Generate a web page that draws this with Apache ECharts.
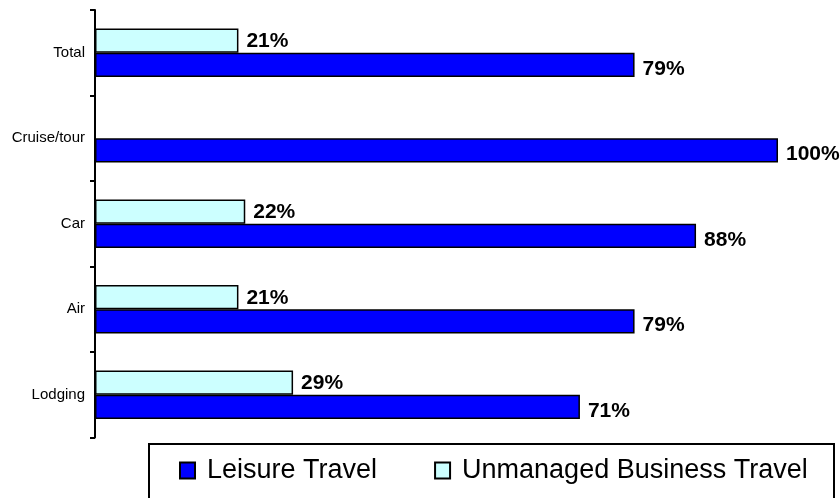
<!DOCTYPE html>
<html>
<head>
<meta charset="utf-8">
<style>
  html, body { margin: 0; padding: 0; background: #fff; }
  #chart { width: 840px; height: 498px; }
</style>
<script src="https://cdn.jsdelivr.net/npm/echarts@6/dist/echarts.min.js"></script>
</head>
<body>
<div id="chart"></div>
<script>
// Travel segments, listed bottom to top
const categories = ['Lodging', 'Air', 'Car', 'Cruise/tour', 'Total'];
// Share of bookings (%)
const leisure = [71, 79, 88, 100, 79];
const business = [29, 21, 22, null, 21];
const seriesNames = ['Leisure Travel', 'Unmanaged Business Travel'];

const font = 'Arial, "Liberation Sans", sans-serif';
const chart = echarts.init(document.getElementById('chart'), null, { renderer: 'canvas' });

function valueLabel(dy) {
  return {
    show: true,
    position: 'right',
    distance: 8,
    offset: [0, dy],
    formatter: p => p.value + '%',
    color: '#000',
    fontFamily: font,
    fontWeight: 'bold',
    fontSize: 21
  };
}

chart.setOption({
  animation: false,
  backgroundColor: '#fff',
  grid: { left: 95, right: 62, top: 10, bottom: 60.5, containLabel: false },
  xAxis: {
    type: 'value', min: 0, max: 100,
    show: false
  },
  yAxis: {
    type: 'category',
    data: categories,
    axisLine: { show: true, lineStyle: { color: '#000', width: 2 } },
    axisTick: { show: true, inside: false, length: 5, lineStyle: { color: '#000', width: 2 } },
    axisLabel: { color: '#000', fontFamily: font, fontSize: 15, margin: 10 },
    splitLine: { show: false }
  },
  legend: {
    data: seriesNames,
    left: 179, top: 457,
    padding: 0,
    icon: 'rect',
    itemWidth: 15, itemHeight: 16,
    itemGap: 57,
    textStyle: { color: '#000', fontFamily: font, fontSize: 27, padding: [0, 0, 0, 7] }
  },
  graphic: [{
    type: 'rect',
    shape: { x: 149, y: 444, width: 685, height: 70 },
    style: { fill: 'none', stroke: '#000', lineWidth: 2 },
    z: -1
  }],
  series: [
    {
      name: seriesNames[1], type: 'bar', data: business,
      barGap: '0%', barCategoryGap: '43%',
      itemStyle: { color: '#CCFFFF', borderColor: '#000', borderWidth: 1.5 },
      label: valueLabel(1)
    },
    {
      name: seriesNames[0], type: 'bar', data: leisure,
      barGap: '0%', barCategoryGap: '43%',
      itemStyle: { color: '#0000FF', borderColor: '#000', borderWidth: 1.5 },
      label: valueLabel(4)
    }
  ]
});
</script>
</body>
</html>
